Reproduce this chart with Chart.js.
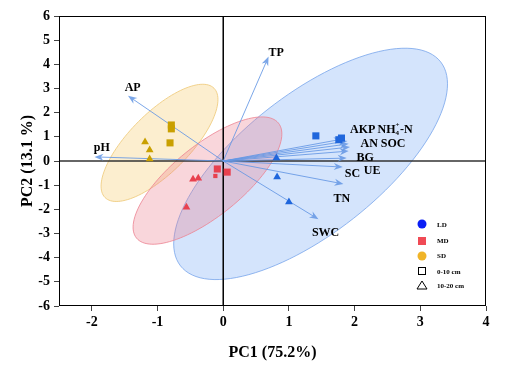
<!DOCTYPE html>
<html>
<head>
<meta charset="utf-8">
<script src="https://cdn.jsdelivr.net/npm/chart.js@4/dist/chart.umd.min.js"></script>
<style>
  body { margin: 0; background: #fff; }
  canvas { display: block; }
</style>
</head>
<body>
<canvas id="chart" width="507" height="369"></canvas>
<script>
// sample scores (PC1, PC2)
const ldSquares = [{x: 1.41, y: 1.04}, {x: 1.76, y: 0.88}, {x: 1.80, y: 0.95}];
const ldTriangles = [{x: 0.81, y: 0.12}, {x: 0.82, y: -0.66}, {x: 1.00, y: -1.70}];
const mdSquares = [{x: -0.09, y: -0.33}, {x: 0.06, y: -0.46}, {x: -0.12, y: -0.62}];
const mdTriangles = [{x: -0.46, y: -0.75}, {x: -0.38, y: -0.71}, {x: -0.56, y: -1.91}];
const sdSquares = [{x: -0.79, y: 1.49}, {x: -0.79, y: 1.33}, {x: -0.81, y: 0.75}];
const sdTriangles = [{x: -1.19, y: 0.79}, {x: -1.12, y: 0.46}, {x: -1.12, y: 0.08}];

// variable loadings (arrow tips)
const varNames = ['TP', 'AP', 'pH', 'AKP', 'NH4', 'AN', 'SOC', 'BG', 'UE', 'SC', 'TN', 'SWC'];
const loadX = [0.69, -1.45, -1.96, 1.82, 1.89, 1.91, 1.93, 1.91, 1.88, 1.82, 1.83, 1.45];
const loadY = [4.32, 2.70, 0.17, 0.91, 0.83, 0.71, 0.58, 0.41, 0.12, -0.25, -0.95, -2.41];

// arrow labels (left edge, middle)
const labelText = ['TP', 'AP', 'pH', 'AKP', 'NH4+-N', 'AN SOC', 'BG', 'SC', 'UE', 'TN', 'SWC'];
const labelX = [0.69, -1.50, -1.97, 1.93, 2.35, 2.09, 2.03, 1.85, 2.14, 1.68, 1.35];
const labelY = [4.46, 3.03, 0.54, 1.30, 1.30, 0.72, 0.14, -0.53, -0.40, -1.57, -2.98];

// confidence ellipses: centre and two conjugate semi-axes (data units)
const ellipseGroups = ['LD', 'SD', 'MD'];
const ellipseCenter = [[1.33, -0.12], [-0.97, 0.75], [-0.24, -0.81]];
const ellipseAxisA = [[1.98, 4.22], [0.83, 2.26], [1.08, 2.38]];
const ellipseAxisB = [[0.65, -2.26], [0.32, -0.88], [0.34, -1.13]];
const ellipseFill = ['rgba(185,212,250,0.62)', 'rgba(250,222,160,0.5)', 'rgba(236,120,136,0.3)'];
const ellipseLine = ['rgba(120,165,235,0.8)', 'rgba(240,205,130,0.9)', 'rgba(236,130,145,0.8)'];

const FONT = "'Liberation Serif', 'Times New Roman', serif";
const LD = '#1f66dc', MD = '#e8414f', SD = '#c9a000';

const biplot = {
  id: 'biplot',
  beforeDatasetsDraw(chart) {
    const {ctx, chartArea: a, scales: {x, y}} = chart;
    ctx.save();
    ctx.beginPath();
    ctx.rect(a.left, a.top, a.width, a.height);
    ctx.clip();

    // ellipses
    ellipseCenter.forEach((c, i) => {
      const A = ellipseAxisA[i], B = ellipseAxisB[i];
      ctx.beginPath();
      for (let k = 0; k <= 120; k++) {
        const t = k / 120 * Math.PI * 2;
        const px = x.getPixelForValue(c[0] + A[0] * Math.cos(t) + B[0] * Math.sin(t));
        const py = y.getPixelForValue(c[1] + A[1] * Math.cos(t) + B[1] * Math.sin(t));
        if (k === 0) ctx.moveTo(px, py); else ctx.lineTo(px, py);
      }
      ctx.closePath();
      ctx.fillStyle = ellipseFill[i];
      ctx.fill();
      ctx.strokeStyle = ellipseLine[i];
      ctx.lineWidth = 1;
      ctx.stroke();
    });

    // zero lines
    const x0 = x.getPixelForValue(0), y0 = y.getPixelForValue(0);
    ctx.strokeStyle = '#000';
    ctx.lineWidth = 1.5;
    ctx.beginPath();
    ctx.moveTo(x0, a.top); ctx.lineTo(x0, a.bottom);
    ctx.stroke();
    ctx.strokeStyle = '#333';
    ctx.beginPath();
    ctx.moveTo(a.left, y0); ctx.lineTo(a.right, y0);
    ctx.stroke();

    // loading arrows
    ctx.strokeStyle = 'rgba(100,150,228,0.85)';
    ctx.fillStyle = 'rgba(100,150,228,0.85)';
    ctx.lineWidth = 1;
    loadX.forEach((lx, i) => {
      const tx = x.getPixelForValue(lx), ty = y.getPixelForValue(loadY[i]);
      const ang = Math.atan2(ty - y0, tx - x0);
      const len = 9, w = 3.5;
      ctx.beginPath();
      ctx.moveTo(x0, y0);
      ctx.lineTo(tx - Math.cos(ang) * len * 0.7, ty - Math.sin(ang) * len * 0.7);
      ctx.stroke();
      ctx.beginPath();
      ctx.moveTo(tx, ty);
      ctx.lineTo(tx - Math.cos(ang) * len - Math.sin(ang) * w, ty - Math.sin(ang) * len + Math.cos(ang) * w);
      ctx.lineTo(tx - Math.cos(ang) * len * 0.7, ty - Math.sin(ang) * len * 0.7);
      ctx.lineTo(tx - Math.cos(ang) * len + Math.sin(ang) * w, ty - Math.sin(ang) * len - Math.cos(ang) * w);
      ctx.closePath();
      ctx.fill();
    });
    ctx.restore();
  },
  afterDraw(chart) {
    const {ctx, chartArea: a, scales: {x, y}} = chart;
    ctx.save();

    // frame
    ctx.strokeStyle = '#000';
    ctx.lineWidth = 1;
    ctx.strokeRect(a.left + 0.5, a.top + 0.5, a.width - 1, a.height - 1);

    // arrow labels
    ctx.fillStyle = '#000';
    ctx.textBaseline = 'middle';
    ctx.textAlign = 'left';
    labelText.forEach((txt, i) => {
      const px = x.getPixelForValue(labelX[i]), py = y.getPixelForValue(labelY[i]);
      if (txt === 'NH4+-N') {
        ctx.font = 'bold 12px ' + FONT;
        ctx.fillText('NH', px, py);
        let w = ctx.measureText('NH').width;
        ctx.font = 'bold 7px ' + FONT;
        ctx.fillText('4', px + w, py + 4);
        ctx.fillText('+', px + w, py - 4);
        w += ctx.measureText('+').width + 0.5;
        ctx.font = 'bold 12px ' + FONT;
        ctx.fillText('-N', px + w, py);
      } else {
        ctx.font = 'bold 12px ' + FONT;
        ctx.fillText(txt, px, py);
      }
    });

    // legend
    const lx = 422, tx = 437;
    ctx.font = 'bold 7px ' + FONT;
    ctx.fillStyle = '#0a1ef5';
    ctx.beginPath(); ctx.arc(lx, 224, 4.5, 0, Math.PI * 2); ctx.fill();
    ctx.fillStyle = '#f04a55';
    ctx.fillRect(lx - 4, 237, 8, 8);
    ctx.fillStyle = '#f0b428';
    ctx.beginPath(); ctx.arc(lx, 256, 4.5, 0, Math.PI * 2); ctx.fill();
    ctx.strokeStyle = '#000';
    ctx.strokeRect(lx - 3.5, 267.5, 7, 7);
    ctx.beginPath();
    ctx.moveTo(lx, 281); ctx.lineTo(lx + 5, 289); ctx.lineTo(lx - 5, 289); ctx.closePath();
    ctx.stroke();
    ctx.fillStyle = '#000';
    [['LD', 225], ['MD', 241], ['SD', 256], ['0-10 cm', 272], ['10-20 cm', 286]].forEach(([t, yy]) => {
      ctx.fillText(t, tx, yy);
    });
    ctx.restore();
  }
};

function pts(data, color, style, radius) {
  return {
    data: data,
    pointStyle: style,
    backgroundColor: color,
    borderColor: color,
    borderWidth: 0,
    pointRadius: radius,
    pointHoverRadius: radius
  };
}

const ctx = document.getElementById('chart').getContext('2d');
const chart = new Chart(ctx, {
  type: 'scatter',
  data: {
    datasets: [
      pts(ldSquares, LD, 'rect', [5, 5, 5]),
      pts(ldTriangles, LD, 'triangle', 4.5),
      pts(mdSquares, MD, 'rect', [5, 5, 3]),
      pts(mdTriangles, MD, 'triangle', 4.5),
      pts(sdSquares, SD, 'rect', [5, 5, 5]),
      pts(sdTriangles, SD, 'triangle', 4.5)
    ]
  },
  options: {
    responsive: false,
    animation: false,
    layout: { padding: { top: 16, right: 21, left: 0, bottom: 0 } },
    plugins: { legend: { display: false }, tooltip: { enabled: false } },
    scales: {
      x: {
        type: 'linear',
        min: -2.5,
        max: 4,
        afterFit: (s) => { s.height = 63; },
        ticks: { stepSize: 1, includeBounds: false, color: '#000', padding: 3,
          font: { family: FONT, size: 14, weight: 'bold' } },
        grid: { drawOnChartArea: false, drawTicks: true, tickLength: 5, color: '#444' },
        border: { display: false },
        title: { display: true, text: 'PC1 (75.2%)', color: '#000', padding: { top: 0, bottom: 7 },
          font: { family: FONT, size: 16, weight: 'bold' } }
      },
      y: {
        type: 'linear',
        min: -6,
        max: 6,
        afterFit: (s) => { s.width = 59; },
        ticks: { stepSize: 1, color: '#000', padding: 4,
          font: { family: FONT, size: 14, weight: 'bold' } },
        grid: { drawOnChartArea: false, drawTicks: true, tickLength: 5, color: '#444' },
        border: { display: false },
        title: { display: true, text: 'PC2 (13.1 %)', color: '#000', padding: { top: 18, bottom: 0 },
          font: { family: FONT, size: 16, weight: 'bold' } }
      }
    }
  },
  plugins: [biplot]
});
</script>
</body>
</html>
